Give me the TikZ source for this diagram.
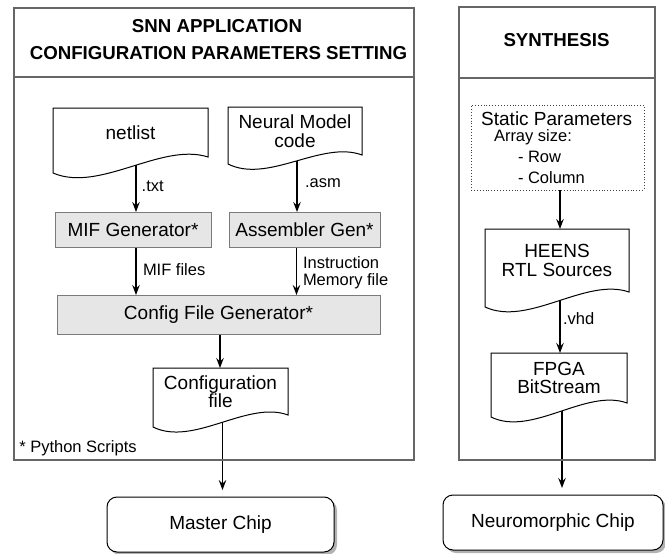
\documentclass[tikz,border=0pt]{standalone}
\usepackage{fontspec}
\setmainfont{Liberation Sans}
\usetikzlibrary{arrows.meta,calc,shadows}

\definecolor{panelgray}{HTML}{666666}
\definecolor{boxgray}{HTML}{7A7A7A}
\definecolor{boxfill}{HTML}{E6E6E6}

\pgfdeclarelayer{links}
\pgfdeclarelayer{sheets}
\pgfsetlayers{links,sheets,main}

% outline of a "document" sheet: flat top, wavy bottom edge
% #1 node name, #2 how far the left end drops below the right end
\newcommand\docoutline[2]{%
  \draw[docline] (#1.north west) -- (#1.north east) -- (#1.south east)
    .. controls ($(#1.south west)!0.7!(#1.south east)+(0,-15)$)
           and ($(#1.south west)!0.3!(#1.south east)+(0,#2+20)$)
    .. ($(#1.south west)+(0,#2)$) -- cycle;
}

\tikzset{
  every node/.style={inner sep=0pt, outer sep=0pt},
  maintext/.style={font=\fontsize{19}{18.5}\selectfont, align=center},
  titletext/.style={font=\bfseries\fontsize{18.7}{22}\selectfont},
  lbltext/.style={font=\fontsize{16.5}{17}\selectfont, anchor=base west},
  panel/.style={draw=panelgray, line width=1.3pt},
  docnode/.style={maintext},
  docline/.style={draw=black, fill=white, line width=1pt},
  procbox/.style={maintext, draw=boxgray, fill=boxfill, line width=1pt},
  parambox/.style={draw=black!75, dotted, line width=0.9pt},
  chipbox/.style={maintext, draw=black, fill=white, rounded corners=10pt, line width=1pt,
    drop shadow={shadow xshift=3pt, shadow yshift=-3pt, fill=black!30, opacity=1}},
  arr/.style={-{Stealth[length=10pt,width=7.5pt,inset=3.5pt]}, line width=1.3pt},
}

\begin{document}
\begin{tikzpicture}[x=1pt,y=-1pt]
\useasboundingbox (0,0) rectangle (665,554);

% the two stage panels
\node[panel, minimum width=400pt, minimum height=452pt] (leftpanel) at (214,234) {};
\node[panel, minimum width=196pt, minimum height=453pt] (rightpanel) at (557,233.5) {};
\draw[panel] (leftpanel.west |- 0,77) -- (leftpanel.east |- 0,77);
\draw[panel] (rightpanel.west |- 0,78) -- (rightpanel.east |- 0,78);

% panel titles
\node[titletext, anchor=base] (ttlA) at (217,32.7) {SNN APPLICATION};
\node[titletext, anchor=base] (ttlB) at (218.5,59) {CONFIGURATION PARAMETERS SETTING};
\node[titletext, anchor=base] (ttlC) at (556.5,46.7) {SYNTHESIS};

% configuration flow
\node[docnode, minimum width=155pt, minimum height=49pt] (netlist) at (130.5,132.5) {netlist};
\node[docnode, minimum width=134pt, minimum height=48pt] (neural) at (295,131) {Neural Model\\code};
\node[procbox, minimum width=156pt, minimum height=35pt] (mif) at (133,229.5) {MIF Generator*};
\node[procbox, minimum width=151pt, minimum height=35pt] (asm) at (304.5,229.5) {Assembler Gen*};
\node[procbox, minimum width=323pt, minimum height=39pt] (cfg) at (218.5,314.5) {Config File Generator*};
\node[docnode, minimum width=135pt, minimum height=47pt] (cf) at (220.5,391.5) {Configuration\\file};
\node[chipbox, minimum width=227pt, minimum height=55pt] (master) at (220.5,524.5) {Master Chip};

% synthesis flow
\node[parambox, minimum width=173pt, minimum height=85pt] (params) at (557.5,147.5) {};
\node[maintext, anchor=base] (parT) at (556.7,125.7) {Static Parameters};
\node[lbltext] (parA) at (494,141.7) {Array size:};
\node[lbltext] (parR) at (518,162.7) {- Row};
\node[lbltext] (parC) at (518,183.3) {- Column};
\node[docnode, minimum width=144pt, minimum height=63pt] (heens) at (557,260.5) {HEENS\\RTL Sources};
\node[docnode, minimum width=136pt, minimum height=50pt] (fpga) at (559,378) {FPGA\\BitStream};
\node[chipbox, minimum width=220pt, minimum height=55pt] (neuro) at (553,522.5) {Neuromorphic Chip};

% connector labels
\node[lbltext] (ltxt) at (141.7,191.7) {.txt};
\node[lbltext] (lasm) at (305,187) {.asm};
\node[lbltext] (lmif) at (143,275) {MIF files};
\node[lbltext] (linsA) at (303,268) {Instruction};
\node[lbltext] (linsB) at (303,285) {Memory file};
\node[lbltext] (lvhd) at (563,324) {.vhd};
\node[lbltext] (lpy) at (19.3,452.3) {* Python Scripts};

% connectors (underneath the document sheets)
\begin{pgfonlayer}{links}
\draw[arr] ([xshift=5.5pt]netlist.south) -- ([xshift=5.5pt]netlist.south |- mif.north);
\draw[arr] ([xshift=2pt]neural.south) -- ([xshift=2pt]neural.south |- asm.north);
\draw[arr] ([xshift=3pt]mif.south) -- ([xshift=3pt]mif.south |- cfg.north);
\draw[arr] ([xshift=-8pt]asm.south) -- ([xshift=-8pt]asm.south |- cfg.north);
\draw[arr] ([xshift=1.5pt]cfg.south) -- ([xshift=1.5pt]cfg.south |- cf.north);
\draw[arr, shorten >=7pt] ([xshift=2pt]cf.south) -- ([xshift=2pt]cf.south |- master.north);
\draw[arr] ([xshift=2.5pt]params.south) -- ([xshift=2.5pt]params.south |- heens.north);
\draw[arr] ([xshift=3pt]heens.south) -- ([xshift=3pt]heens.south |- fpga.north);
\draw[arr, shorten >=7pt] ([xshift=3pt]fpga.south) -- ([xshift=3pt]fpga.south |- neuro.north);
\end{pgfonlayer}

% document sheets
\begin{pgfonlayer}{sheets}
\docoutline{netlist}{16}
\docoutline{neural}{9}
\docoutline{cf}{12}
\docoutline{heens}{15}
\docoutline{fpga}{14}
\end{pgfonlayer}
\end{tikzpicture}
\end{document}
